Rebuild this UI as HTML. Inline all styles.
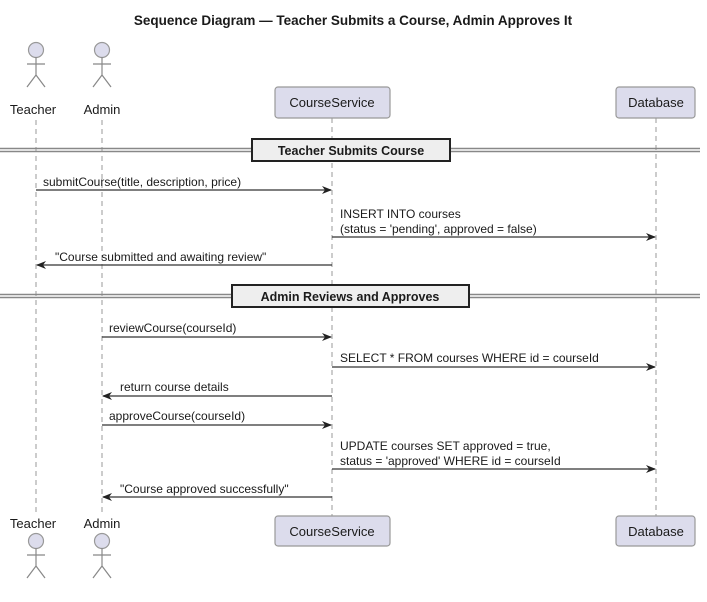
<!DOCTYPE html>
<html><head><meta charset="utf-8"><style>
body{margin:0;background:#fff}
svg text{font-family:"Liberation Sans",sans-serif;fill:#1a1a1a}
</style></head><body>
<svg width="707" height="597" viewBox="0 0 707 597" xmlns="http://www.w3.org/2000/svg">
<defs><marker id="a" markerWidth="10" markerHeight="8" refX="9" refY="4" orient="auto" markerUnits="userSpaceOnUse"><path d="M0,0 L10,4 L0,8 L3,4 Z" fill="#222"/></marker></defs>
<text x="353" y="25" text-anchor="middle" font-size="13.5" font-weight="bold">Sequence Diagram — Teacher Submits a Course, Admin Approves It</text>
<g stroke="#999" stroke-dasharray="5,4" stroke-width="1">
<line x1="36" y1="120" x2="36" y2="512"/><line x1="102" y1="120" x2="102" y2="512"/>
<line x1="332" y1="118" x2="332" y2="516"/><line x1="656" y1="118" x2="656" y2="516"/>
</g>
<g fill="#dcdcec" stroke="#999" stroke-width="1.2">
<circle cx="36" cy="50" r="7.5"/><circle cx="102" cy="50" r="7.5"/>
<circle cx="36" cy="541" r="7.5"/><circle cx="102" cy="541" r="7.5"/>
<rect x="275" y="87" width="115" height="31" rx="3"/><rect x="616" y="87" width="79" height="31" rx="3"/>
<rect x="275" y="516" width="115" height="30" rx="3"/><rect x="616" y="516" width="79" height="30" rx="3"/>
</g>
<g stroke="#888" stroke-width="1.2" fill="none">
<path d="M36 57v18M27 64h18M36 75l-9 12M36 75l9 12"/><path d="M102 57v18M93 64h18M102 75l-9 12M102 75l9 12"/>
<path d="M36 548v18M27 555h18M36 566l-9 12M36 566l9 12"/><path d="M102 548v18M93 555h18M102 566l-9 12M102 566l9 12"/>
</g>
<g font-size="13">
<text x="33" y="114" text-anchor="middle">Teacher</text><text x="102" y="114" text-anchor="middle">Admin</text>
<text x="33" y="528" text-anchor="middle">Teacher</text><text x="102" y="528" text-anchor="middle">Admin</text>
<text x="332" y="107" text-anchor="middle">CourseService</text><text x="656" y="107" text-anchor="middle">Database</text>
<text x="332" y="536" text-anchor="middle">CourseService</text><text x="656" y="536" text-anchor="middle">Database</text>
</g>
<g stroke="#888" stroke-width="1.6"><line x1="0" y1="148.5" x2="700" y2="148.5"/><line x1="0" y1="151.5" x2="700" y2="151.5"/>
<line x1="0" y1="294.5" x2="700" y2="294.5"/><line x1="0" y1="297.5" x2="700" y2="297.5"/></g>
<rect x="252" y="139" width="198" height="22" fill="#eee" stroke="#222" stroke-width="2"/>
<rect x="232" y="285" width="237" height="22" fill="#eee" stroke="#222" stroke-width="2"/>
<text x="351" y="155" text-anchor="middle" font-size="12.5" font-weight="bold">Teacher Submits Course</text>
<text x="350" y="301" text-anchor="middle" font-size="12.5" font-weight="bold">Admin Reviews and Approves</text>
<g stroke="#333" stroke-width="1.2" marker-end="url(#a)">
<line x1="36" y1="190" x2="331" y2="190"/><line x1="332" y1="237" x2="655" y2="237"/>
<line x1="332" y1="265" x2="37" y2="265"/><line x1="102" y1="337" x2="331" y2="337"/>
<line x1="332" y1="367" x2="655" y2="367"/><line x1="332" y1="396" x2="103" y2="396"/>
<line x1="102" y1="425" x2="331" y2="425"/><line x1="332" y1="469" x2="655" y2="469"/>
<line x1="332" y1="497" x2="103" y2="497"/>
</g>
<g font-size="12">
<text x="43" y="186">submitCourse(title, description, price)</text>
<text x="340" y="218">INSERT INTO courses</text><text x="340" y="233">(status = 'pending', approved = false)</text>
<text x="55" y="261">"Course submitted and awaiting review"</text>
<text x="109" y="332">reviewCourse(courseId)</text>
<text x="340" y="362">SELECT * FROM courses WHERE id = courseId</text>
<text x="120" y="391">return course details</text>
<text x="109" y="420">approveCourse(courseId)</text>
<text x="340" y="450">UPDATE courses SET approved = true,</text><text x="340" y="465">status = 'approved' WHERE id = courseId</text>
<text x="120" y="493">"Course approved successfully"</text>
</g>
</svg>
</body></html>
